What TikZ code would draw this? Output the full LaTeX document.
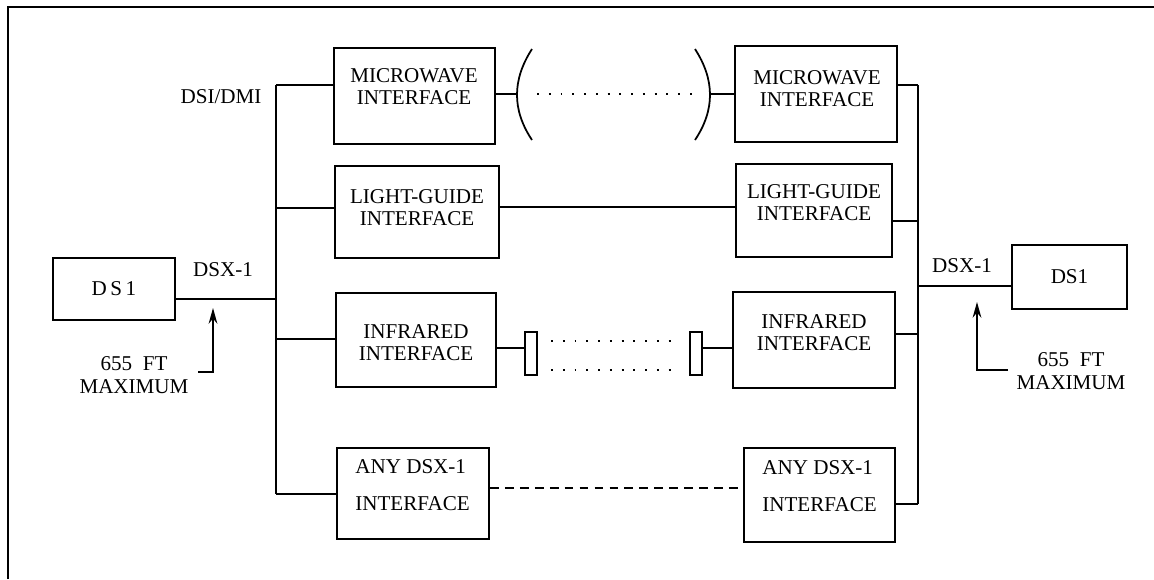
\documentclass[tikz,border=0pt]{standalone}
\usepackage{fontspec}
\setmainfont{Liberation Serif}
\usepackage{tikz}
\usetikzlibrary{arrows, arrows.meta, positioning, calc}

\tikzset{
  ifbox/.style={draw, line width=1.2pt, inner sep=0pt},
  iftxt/.style={align=center, inner sep=0pt, font=\fontsize{12}{12.5}\selectfont},
  anytxt/.style={align=left, inner sep=0pt, font=\fontsize{12}{21}\selectfont},
  lbl/.style={inner sep=0pt, font=\fontsize{12}{13.5}\selectfont, align=center},
  wire/.style={line width=1pt},
  dots/.style={line width=1.1pt, dash pattern=on 1.1pt off 5.6pt},
  lens/.style={draw, line width=0.8pt, inner sep=0pt, minimum width=0.24cm, minimum height=0.86cm},
  ptr/.style={line width=0.8pt, -{Stealth[length=9pt, width=5pt, inset=3pt]}}
}

\begin{document}
\begin{tikzpicture}[x=0.02cm, y=-0.02cm]
\useasboundingbox (0,0) rectangle (1154,579);
% Frame
\draw[line width=1.2pt] (8,579) -- (8,7) -- (1154,7);

% DS1 boxes
\node[ifbox, minimum width=2.44cm, minimum height=1.24cm, font=\fontsize{12}{12}\selectfont] (dsl) at (114,289) {D\,S\,1};
\node[ifbox, minimum width=2.3cm, minimum height=1.28cm, font=\fontsize{12}{12}\selectfont] (dsr) at (1069.5,277) {DS1};

% Interface boxes, left
\node[ifbox, minimum width=3.22cm, minimum height=1.92cm] (mwl) at (414.5,96) {};
\node[ifbox, minimum width=3.28cm, minimum height=1.84cm] (lgl) at (417,212) {};
\node[ifbox, minimum width=3.2cm, minimum height=1.88cm] (irl) at (416,340) {};
\node[ifbox, minimum width=3.04cm, minimum height=1.82cm] (anyl) at (413,493.5) {};
% Interface boxes, right
\node[ifbox, minimum width=3.24cm, minimum height=1.92cm] (mwr) at (816,94) {};
\node[ifbox, minimum width=3.12cm, minimum height=1.86cm] (lgr) at (814,210.5) {};
\node[ifbox, minimum width=3.24cm, minimum height=1.92cm] (irr) at (814,340) {};
\node[ifbox, minimum width=3.02cm, minimum height=1.88cm] (anyr) at (819.5,495) {};

% Box texts
\node[iftxt] (mwlt) at (414,87) {MICROWAVE\\INTERFACE};
\node[iftxt] (lglt) at (417,208) {LIGHT-GUIDE\\INTERFACE};
\node[iftxt] (irlt) at (416,343) {INFRARED\\INTERFACE};
\node[anytxt, anchor=west] (anylt) at (355,485) {ANY DSX-1\\INTERFACE};
\node[iftxt] (mwrt) at (817,89) {MICROWAVE\\INTERFACE};
\node[iftxt] (lgrt) at (814,203) {LIGHT-GUIDE\\INTERFACE};
\node[iftxt] (irrt) at (814,333) {INFRARED\\INTERFACE};
\node[anytxt, anchor=west] (anyrt) at (762,486) {ANY DSX-1\\INTERFACE};

% Labels
\node[lbl] (dmi) at (221,97) {DSI/DMI};
\node[lbl] (dsxl) at (223,270) {DSX-1};
\node[lbl] (dsxr) at (962,266) {DSX-1};
\node[lbl] (maxl) at (134,375) {655~~FT\\MAXIMUM};
\node[lbl] (maxr) at (1071,371) {655~~FT\\MAXIMUM};

% Left bus
\coordinate (bl1) at (276,85);
\coordinate (bl2) at (276,208);
\coordinate (bl3) at (276,339);
\coordinate (bl4) at (276,494);
\coordinate (jl) at (276,299);
\draw[wire] (bl1) -- (bl4);
\draw[wire] (bl1) -- (bl1 -| mwl.west);
\draw[wire] (bl2) -- (bl2 -| lgl.west);
\draw[wire] (bl3) -- (bl3 -| irl.west);
\draw[wire] (bl4) -- (bl4 -| anyl.west);
\draw[wire] (jl -| dsl.east) -- (jl);

% Right bus
\coordinate (br1) at (918,85);
\coordinate (br2) at (918,221);
\coordinate (br3) at (918,334);
\coordinate (br4) at (918,504);
\coordinate (jr) at (918,286);
\draw[wire] (br1) -- (br4);
\draw[wire] (br1) -- (br1 -| mwr.east);
\draw[wire] (br2) -- (br2 -| lgr.east);
\draw[wire] (br3) -- (br3 -| irr.east);
\draw[wire] (br4) -- (br4 -| anyr.east);
\draw[line width=0.6pt] (jr) -- (jr -| dsr.west);

% Microwave link
\coordinate (pl) at (517,94);
\coordinate (pr) at (710,94);
\draw[line width=1.4pt] (pl -| mwl.east) -- (pl);
\draw[line width=1.4pt] (pr) -- (pr -| mwr.west);
\draw[line width=1pt] (532,49) .. controls (512,80) and (512,110) .. (532,140);
\draw[line width=1pt] (695,49) .. controls (715,80) and (715,110) .. (695,140);
\draw[dots] (537,94) -- (693,94);

% Light-guide link
\coordinate (lg) at (0,207);
\draw[wire] (lgl.east |- lg) -- (lgr.west |- lg);

% Infrared link
\node[lens] (lnl) at (531,353.5) {};
\node[lens] (lnr) at (696,353.5) {};
\coordinate (ir) at (0,348);
\draw[line width=1.3pt] (irl.east |- ir) -- (lnl.west |- ir);
\draw[line width=1.3pt] (lnr.east |- ir) -- (irr.west |- ir);
\draw[dots] (551,341) -- (680,341);
\draw[dots] (551,370) -- (680,370);

% Any DSX-1 link
\coordinate (ad) at (0,488);
\draw[line width=1.1pt, dash pattern=on 5pt off 3.5pt] (anyl.east |- ad) -- (anyr.west |- ad);

% 655 FT arrows
\coordinate (al) at (198,372);
\coordinate (tl) at (213,308);
\draw[ptr] (al) -| (tl);
\coordinate (ar) at (1008,370);
\coordinate (tr) at (977,302);
\draw[ptr] (ar) -| (tr);
\end{tikzpicture}
\end{document}
